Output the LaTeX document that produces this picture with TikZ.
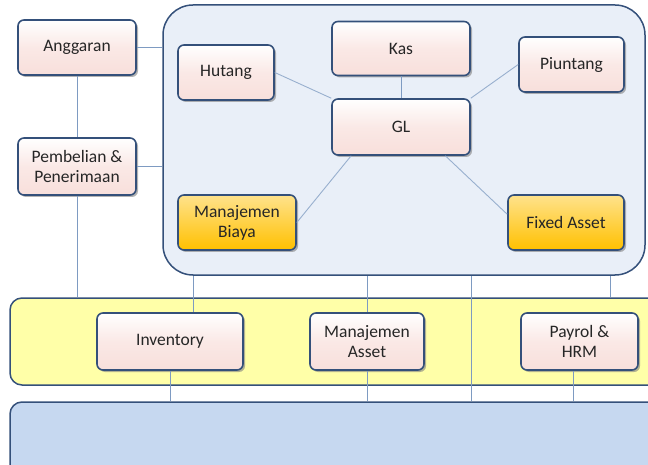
\documentclass[tikz,border=0pt]{standalone}
\usepackage{fontspec}
\setmainfont{Carlito}
\usetikzlibrary{calc, shadows}
\usepackage{xcolor}

\definecolor{rim}{HTML}{34507A}
\definecolor{panelfill}{HTML}{E9EFF8}
\definecolor{kuning}{HTML}{FFFFA8}
\definecolor{biru}{HTML}{C6D8F0}
\definecolor{pink}{HTML}{F8DFDB}
\definecolor{emas}{HTML}{FFC000}
\definecolor{garis}{HTML}{7E9BC2}

\begin{document}
\begin{tikzpicture}[x=1pt, y=-1pt,
    modul/.style={draw=rim, line width=1.6pt, rounded corners=6pt,
        top color=white, bottom color=pink, middle color=pink!70, text=black!85,
        font=\fontsize{17.5}{20}\selectfont, align=center, inner sep=0pt,
        drop shadow={opacity=0.6, shadow xshift=2pt, shadow yshift=-2pt}},
    utama/.style={modul, top color=emas!45, middle color=emas!90, bottom color=emas},
    band/.style={draw=rim, line width=1.5pt, inner sep=0pt},
    link/.style={draw=garis, line width=0.9pt}]

    \useasboundingbox (0,0) rectangle (648,465);

    \node[band, fill=panelfill, rounded corners=30pt, minimum width=482pt, minimum height=270pt] (panel) at (404,140) {};
    \node[band, fill=kuning, rounded corners=12pt, minimum width=660pt, minimum height=87pt] (ops) at (340,341.5) {};
    \node[band, fill=biru, rounded corners=12pt, minimum width=660pt, minimum height=76pt] (db) at (340,440) {};

    \path (471,0) coordinate (P);
    \path (610,0) coordinate (Q);

    \node[modul, minimum width=118pt, minimum height=55pt] (ang) at (77,47.5) {Anggaran};
    \node[modul, minimum width=118pt, minimum height=57pt] (beli) at (77,166.5) {Pembelian \&\\Penerimaan};

    \node[modul, minimum width=96pt, minimum height=55pt] (hut) at (226,72.5) {Hutang};
    \node[modul, minimum width=138pt, minimum height=54pt] (kas) at (401,48.5) {Kas};
    \node[modul, minimum width=138pt, minimum height=56pt] (gl) at (401,127) {GL};
    \node[modul, minimum width=105pt, minimum height=55pt] (piu) at (571.5,64.5) {Piuntang};
    \node[utama, minimum width=118pt, minimum height=55pt] (biaya) at (237,222.5) {Manajemen\\Biaya};
    \node[utama, minimum width=116pt, minimum height=55pt] (fa) at (566,222.5) {Fixed Asset};

    \node[modul, minimum width=146pt, minimum height=57pt] (inv) at (170,341.5) {Inventory};
    \node[modul, minimum width=114pt, minimum height=57pt] (aset) at (367,341.5) {Manajemen\\Asset};
    \node[modul, minimum width=117pt, minimum height=57pt] (pay) at (579.5,341.5) {Payrol \&\\HRM};

    \draw[link] (ang.east) -- (ang.east -| panel.west);
    \draw[link] (beli.east) -- (beli.east -| panel.west);
    \draw[link] (ang.south) -- (beli.north);
    \draw[link] (beli.south) -- (beli.south |- ops.north);

    \draw[link, draw=garis!80] (hut.east) -- (gl.north west);
    \draw[link] (kas.south) -- (gl.north);
    \draw[link, draw=garis!80] (piu.west) -- (gl.north east);
    \draw[link, draw=garis!80] (gl.210) -- (biaya.east);
    \draw[link, draw=garis!80] (gl.327) -- (fa.172);

    \draw[link] ([xshift=23pt]inv.north) -- ([xshift=23pt]inv.north |- panel.south);
    \draw[link] (aset.north) -- (aset.north |- panel.south);
    \draw[link] (panel.south -| P) -- (db.north -| P);
    \draw[link] (panel.south -| Q) -- (ops.north -| Q);

    \draw[link] (inv.south) -- (inv.south |- db.north);
    \draw[link] (aset.south) -- (aset.south |- db.north);
    \draw[link] ([xshift=-6pt]pay.south) -- ([xshift=-6pt]pay.south |- db.north);
\end{tikzpicture}
\end{document}
